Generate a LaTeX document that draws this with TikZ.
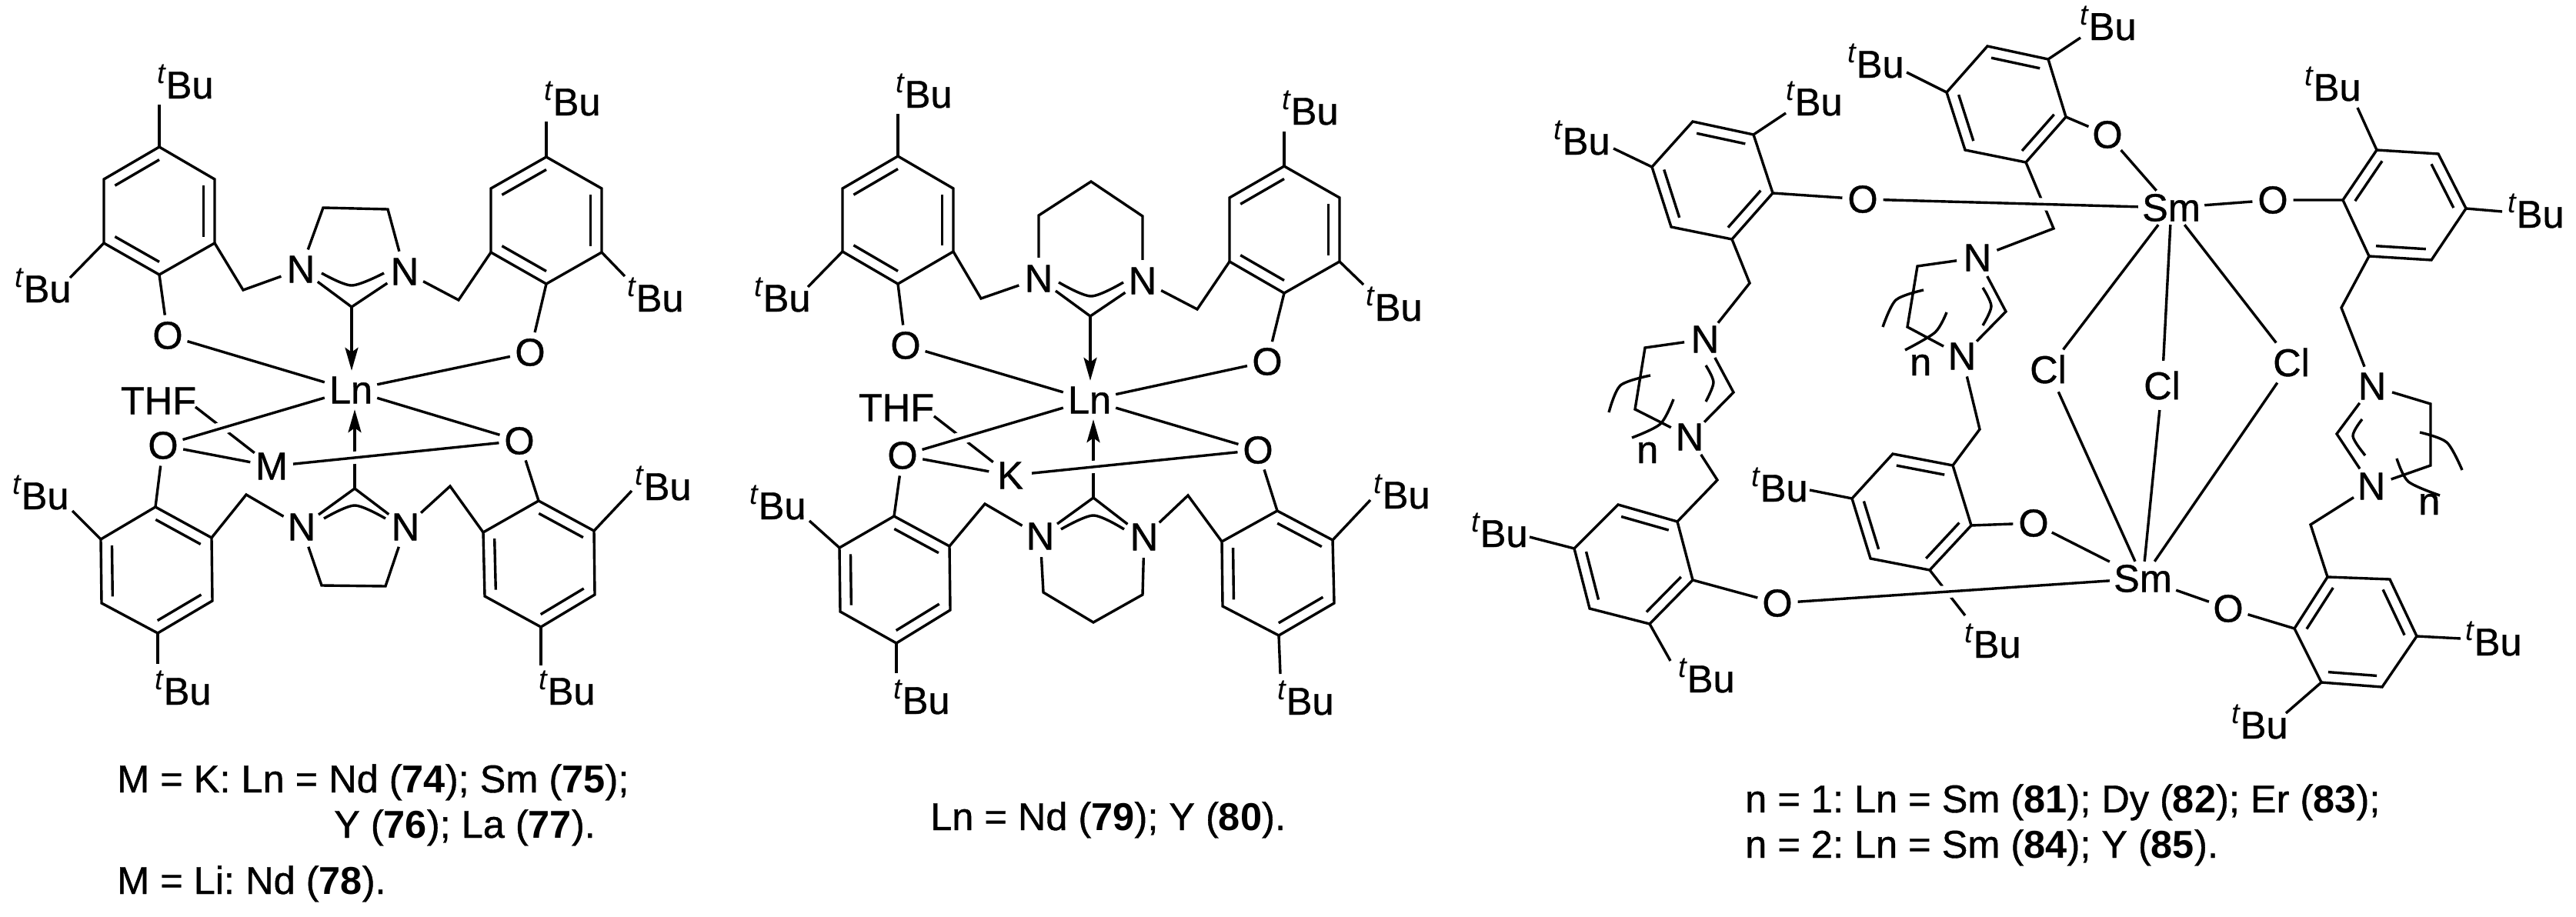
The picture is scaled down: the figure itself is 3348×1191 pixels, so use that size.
\documentclass[tikz,border=0pt]{standalone}
\usepackage{fontspec}
\setmainfont{Liberation Sans}[UprightFeatures={RawFeature={embolden=0.8}}]
\usetikzlibrary{calc,arrows.meta}
\newcommand\tbtext{\raisebox{20pt}{\fontsize{38}{38}\itshape\selectfont t}\kern1pt Bu}
\newcommand\ringsix[7]{%
  \coordinate (#1a) at (#2);\coordinate (#1b) at (#3);\coordinate (#1c) at (#4);
  \coordinate (#1d) at (#5);\coordinate (#1e) at (#6);\coordinate (#1f) at (#7);
  \coordinate (#1o) at ($(#1a)!.5!(#1d)$);
  \draw[bond] (#1a)--(#1b)--(#1c)--(#1d)--(#1e)--(#1f)--cycle;
  \draw[bond] ($(#1a)!.2!(#1o)$)--($(#1b)!.2!(#1o)$);
  \draw[bond] ($(#1c)!.2!(#1o)$)--($(#1d)!.2!(#1o)$);
  \draw[bond] ($(#1e)!.2!(#1o)$)--($(#1f)!.2!(#1o)$);
}
% name, ring vertex, bond end, label base-left
\newcommand\tbu[4]{%
  \coordinate (#1e) at (#3);
  \node[lab] (#1) at (#4) {\tbtext};
  \draw[bond] (#2)--(#1e);
}
\begin{document}
\begin{tikzpicture}[x=1pt,y=-1pt,
  bond/.style={line width=3.4pt,line join=miter},
  dative/.style={bond,-{Stealth[length=30pt,width=17pt,inset=6pt]}},
  over/.style={bond,preaction={draw=white,line width=16pt}},
  atom/.style={circle,inner sep=0pt,minimum size=50pt},
  natom/.style={circle,inner sep=0pt,minimum size=54pt},
  matom/.style={circle,inner sep=0pt,minimum size=56pt},
  clatom/.style={circle,inner sep=0pt,minimum size=64pt},
  metal/.style={rectangle,inner sep=0pt,minimum width=68pt,minimum height=50pt},
  smatom/.style={rectangle,inner sep=0pt,minimum width=86pt,minimum height=44pt},
  plain/.style={rectangle,inner sep=0pt},
  lab/.style={anchor=base west,inner sep=0pt},
  every node/.append style={font=\fontsize{50.5}{54}\selectfont\frenchspacing,text=black}]
\useasboundingbox (0,0) rectangle (3348,1191);
\fill[white] (0,0) rectangle (3348,1191);

%%%%%%%%%% compound 74-78
\node[metal] (aLn) at (456,507) {Ln};
\node[atom] (aO1) at (218,436) {O};
\node[atom] (aO2) at (689,458) {O};
\node[atom] (aO3) at (212,579) {O};
\node[atom] (aO4) at (675,573) {O};
\node[matom] (aM) at (353,606) {M};
\node[plain] (aTHF) at (206,521) {THF};
\coordinate (aTe) at (254,529);
\node[natom] (aN1) at (391,350) {N};
\node[natom] (aN2) at (526,353) {N};
\node[natom] (aN3) at (392,685) {N};
\node[natom] (aN4) at (527,685) {N};
\coordinate (aC1) at (457,399);
\coordinate (aC2) at (461,635);
\ringsix{aA}{207,191}{135,233}{135,316}{207,357}{279,316}{279,233}
\ringsix{aB}{710,204}{638,245}{638,328}{710,369}{782,328}{782,245}
\ringsix{aC}{202,659}{275,699}{276,781}{205,823}{132,784}{131,701}
\ringsix{aD}{700,651}{772,690}{773,773}{703,815}{630,775}{628,692}
\tbu{aT1}{aAa}{207,136}{204,128}
\tbu{aT2}{aAc}{91,361}{19,393}
\tbu{aT3}{aBa}{710,158}{707,150}
\tbu{aT4}{aBe}{812,359}{815,405}
\tbu{aT5}{aCf}{94,664}{16,662}
\tbu{aT6}{aCd}{205,863}{201,916}
\tbu{aT7}{aDb}{821,638}{825,650}
\tbu{aT8}{aDd}{703,865}{700,916}
\draw[bond] (aTe)--(aM);
\draw[dative] (aC2)--(aC2 |- aLn.south);
\draw[over] (aO3)--(aLn);
\draw[over] (aM)--(aO4);
\draw[bond] (aO1)--(aLn);
\draw[bond] (aO2)--(aLn);
\draw[bond] (aO4)--(aLn);
\draw[bond] (aO3)--(aM);
\draw[dative] (aC1)--(aC1 |- aLn.north);
\draw[bond] (aAd)--(aO1);
\draw[bond] (aBd)--(aO2);
\draw[bond] (aCa)--(aO3);
\draw[bond] (aDa)--(aO4);
\coordinate (aH1) at (316,377);
\coordinate (aH2) at (596,390);
\coordinate (aH3) at (320,643);
\coordinate (aH4) at (585,632);
\coordinate (aR1) at (420,270);
\coordinate (aR2) at (504,272);
\coordinate (aR3) at (418,761);
\coordinate (aR4) at (501,762);
\draw[bond] (aAe)--(aH1)--(aN1);
\draw[bond] (aBc)--(aH2)--(aN2);
\draw[bond] (aCb)--(aH3)--(aN3);
\draw[bond] (aDf)--(aH4)--(aN4);
\draw[bond] (aN1)--(aR1)--(aR2)--(aN2);
\draw[bond] (aN3)--(aR3)--(aR4)--(aN4);
\draw[bond] (aN1)--(aC1)--(aN2);
\draw[bond] (aN3)--(aC2)--(aN4);
\draw[bond] plot[smooth] coordinates {(418,355) (457,371) (499,355)};
\draw[bond] plot[smooth] coordinates {(421,674) (461,657) (501,674)};
\node[lab] (aL1) at (152,1030) {M = K: Ln = Nd (\textbf{74}); Sm (\textbf{75});};
\node[lab] (aL2) at (434,1089) {Y (\textbf{76}); La (\textbf{77}).};
\node[lab] (aL3) at (152,1162) {M = Li: Nd (\textbf{78}).};

%%%%%%%%%% compound 79-80
\node[metal] (bLn) at (1416,520) {Ln};
\node[atom] (bO1) at (1177,449) {O};
\node[atom] (bO2) at (1647,470) {O};
\node[atom] (bO3) at (1173,592) {O};
\node[atom] (bO4) at (1635,585) {O};
\node[matom] (bK) at (1313,618) {K};
\node[plain] (bTHF) at (1165,530) {THF};
\coordinate (bTe) at (1214,541);
\node[natom] (bN1) at (1350,362) {N};
\node[natom] (bN2) at (1485,365) {N};
\node[natom] (bN3) at (1352,697) {N};
\node[natom] (bN4) at (1487,698) {N};
\coordinate (bC1) at (1417,411);
\coordinate (bC2) at (1421,647);
\ringsix{bA}{1167,203}{1095,245}{1095,327}{1167,369}{1239,327}{1239,245}
\ringsix{bB}{1669,216}{1598,257}{1598,340}{1669,381}{1741,340}{1741,257}
\ringsix{bC}{1162,671}{1234,710}{1235,793}{1165,836}{1092,795}{1091,712}
\ringsix{bD}{1660,664}{1732,702}{1734,784}{1662,826}{1589,788}{1588,704}
\tbu{bT1}{bAa}{1167,148}{1164,140}
\tbu{bT2}{bAc}{1050,373}{980,405}
\tbu{bT3}{bBa}{1669,171}{1666,162}
\tbu{bT4}{bBe}{1772,370}{1775,417}
\tbu{bT5}{bCf}{1052,677}{974,675}
\tbu{bT6}{bCd}{1165,875}{1161,928}
\tbu{bT7}{bDb}{1781,650}{1785,661}
\tbu{bT8}{bDd}{1664,876}{1660,929}
\draw[bond] (bTe)--(bK);
\draw[dative] (bC2)--(bC2 |- bLn.south);
\draw[over] (bO3)--(bLn);
\draw[over] (bK)--(bO4);
\draw[bond] (bO1)--(bLn);
\draw[bond] (bO2)--(bLn);
\draw[bond] (bO4)--(bLn);
\draw[bond] (bO3)--(bK);
\draw[dative] (bC1)--(bC1 |- bLn.north);
\draw[bond] (bAd)--(bO1);
\draw[bond] (bBd)--(bO2);
\draw[bond] (bCa)--(bO3);
\draw[bond] (bDa)--(bO4);
\coordinate (bH1) at (1275,388);
\coordinate (bH2) at (1556,402);
\coordinate (bH3) at (1280,655);
\coordinate (bH4) at (1544,644);
\coordinate (bR1) at (1350,280);
\coordinate (bR2) at (1418,236);
\coordinate (bR3) at (1485,281);
\coordinate (bR4) at (1356,770);
\coordinate (bR5) at (1421,809);
\coordinate (bR6) at (1485,773);
\draw[bond] (bAe)--(bH1)--(bN1);
\draw[bond] (bBc)--(bH2)--(bN2);
\draw[bond] (bCb)--(bH3)--(bN3);
\draw[bond] (bDf)--(bH4)--(bN4);
\draw[bond] (bN1)--(bR1)--(bR2)--(bR3)--(bN2);
\draw[bond] (bN3)--(bR4)--(bR5)--(bR6)--(bN4);
\draw[bond] (bN1)--(bC1)--(bN2);
\draw[bond] (bN3)--(bC2)--(bN4);
\draw[bond] plot[smooth] coordinates {(1376,367) (1418,385) (1460,367)};
\draw[bond] plot[smooth] coordinates {(1379,688) (1421,670) (1461,688)};
\node[lab] (bL1) at (1209,1079) {Ln = Nd (\textbf{79}); Y (\textbf{80}).};

%%%%%%%%%% compound 81-85
\node[smatom] (cSm1) at (2822,270) {Sm};
\node[smatom] (cSm2) at (2785,752) {Sm};
\node[clatom] (cCl1) at (2662,480) {Cl};
\node[clatom] (cCl2) at (2810,501) {Cl};
\node[clatom] (cCl3) at (2978,471) {Cl};
\node[atom] (cO1) at (2421,259) {O};
\node[atom] (cO2) at (2739,175) {O};
\node[atom] (cO3) at (2954,260) {O};
\node[atom] (cO4) at (2310,784) {O};
\node[atom] (cO5) at (2643,680) {O};
\node[atom] (cO6) at (2896,791) {O};
\node[natom] (cN1) at (2216,441) {N};
\node[natom] (cN2) at (2196,568) {N};
\node[natom] (cN3) at (2570,335) {N};
\node[natom] (cN4) at (2550,463) {N};
\node[natom] (cN5) at (3083,502) {N};
\node[natom] (cN6) at (3082,632) {N};
\ringsix{cE}{2200,158}{2279,175}{2304,251}{2251,311}{2172,295}{2147,217}
\ringsix{cF}{2103,656}{2180,678}{2200,754}{2144,811}{2066,791}{2046,713}
\ringsix{cG}{2662,77}{2583,60}{2530,120}{2554,195}{2633,211}{2685,152}
\ringsix{cH}{2460,590}{2538,605}{2562,683}{2508,741}{2431,726}{2407,648}
\ringsix{cI}{3169,200}{3205,271}{3160,338}{3079,333}{3045,260}{3089,195}
\ringsix{cJ}{3106,753}{3141,827}{3096,893}{3017,887}{2982,817}{3025,750}
\tbu{cT1}{cEf}{2097,193}{2019,201}
\tbu{cT2}{cEb}{2321,147}{2321,150}
\tbu{cT3}{cFf}{1988,698}{1912,711}
\tbu{cT4}{cFd}{2171,859}{2181,900}
\tbu{cT5}{cGc}{2478,94}{2401,101}
\tbu{cT6}{cGa}{2704,49}{2703,52}
\tbu{cT7}{cHf}{2352,637}{2276,652}
\tbu{cT8}{cHd}{2554,800}{2553,855}
\tbu{cT9}{cIf}{3064,140}{2995,131}
\tbu{cT10}{cIb}{3252,275}{3259,296}
\tbu{cT11}{cJb}{3198,830}{3204,852}
\tbu{cT12}{cJd}{2971,927}{2900,960}
\coordinate (cH3) at (2669,297);
\draw[bond] (cGe)--(cH3)--(cN3);
\draw[over] (cO1)--(cSm1);
\draw[over] (cO4)--(cSm2);
\draw[bond] (cEc)--(cO1);
\draw[bond] (cFc)--(cO4);
\draw[bond] (cGf)--(cO2)--(cSm1);
\draw[bond] (cHc)--(cO5)--(cSm2);
\draw[bond] (cSm1)--(cO3)--(cIe);
\draw[bond] (cSm2)--(cO6)--(cJe);
\draw[bond] (cSm1)--(cCl1)--(cSm2);
\draw[bond] (cSm1)--(cCl2)--(cSm2);
\draw[bond] (cSm1)--(cCl3)--(cSm2);
\coordinate (cH1) at (2274,368);
\coordinate (cH2) at (2232,624);
\coordinate (cH4) at (2573,558);
\coordinate (cH5) at (3043,400);
\coordinate (cH6) at (3003,682);
\draw[bond] (cEd)--(cH1)--(cN1);
\draw[bond] (cFb)--(cH2)--(cN2);
\draw[bond] (cHb)--(cH4)--(cN4);
\draw[bond] (cId)--(cH5)--(cN5);
\draw[bond] (cJf)--(cH6)--(cN6);
\coordinate (cP1) at (2138,452);
\coordinate (cP2) at (2125,532);
\coordinate (cP3) at (2253,510);
\coordinate (cQ1) at (2492,346);
\coordinate (cQ2) at (2479,425);
\coordinate (cQ3) at (2607,405);
\coordinate (cS1) at (3159,525);
\coordinate (cS2) at (3159,605);
\coordinate (cS3) at (3037,564);
\draw[bond] (cN1)--(cP1)--(cP2)--(cN2)--(cP3)--(cN1);
\draw[bond] (cN3)--(cQ1)--(cQ2)--(cN4)--(cQ3)--(cN3);
\draw[bond] (cN5)--(cS1)--(cS2)--(cN6)--(cS3)--(cN5);
\draw[bond] plot[smooth] coordinates {(2217,475) (2227,497) (2217,522)};
\draw[bond] plot[smooth] coordinates {(2145,488) (2106,501) (2091,536)};
\draw[bond] plot[smooth] coordinates {(2175,519) (2158,551) (2121,569)};
\draw[bond] plot[smooth] coordinates {(2577,374) (2588,398) (2577,423)};
\draw[bond] plot[smooth] coordinates {(2500,377) (2464,390) (2447,425)};
\draw[bond] plot[smooth] coordinates {(2530,406) (2515,432) (2476,455)};
\draw[bond] plot[smooth] coordinates {(3070,545) (3058,567) (3074,592)};
\draw[bond] plot[smooth] coordinates {(3145,562) (3180,575) (3200,611)};
\draw[bond] plot[smooth] coordinates {(3115,596) (3130,626) (3171,644)};
\node[lab] (cn1) at (2127,602) {n};
\node[lab] (cn2) at (2482,488) {n};
\node[lab] (cn3) at (3143,669) {n};
\node[lab] (cL1) at (2268,1056) {n = 1: Ln = Sm (\textbf{81}); Dy (\textbf{82}); Er (\textbf{83});};
\node[lab] (cL2) at (2268,1115) {n = 2: Ln = Sm (\textbf{84}); Y (\textbf{85}).};
\end{tikzpicture}
\end{document}
